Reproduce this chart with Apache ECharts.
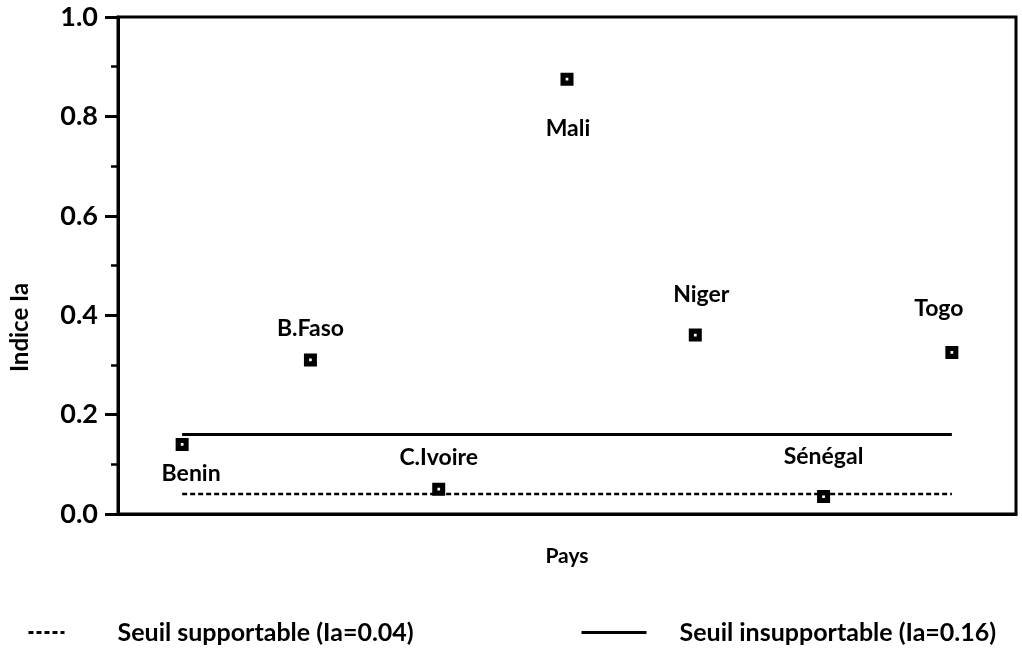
<!DOCTYPE html>
<html>
<head>
<meta charset="utf-8">
<script src="https://cdn.jsdelivr.net/npm/echarts@6/dist/echarts.min.js"></script>
<style>html,body{margin:0;padding:0;background:#fff}#c{width:1022px;height:652px}</style>
</head>
<body>
<div id="c"></div>
<script>
var countries = ['Benin', 'B.Faso', 'C.Ivoire', 'Mali', 'Niger', 'Sénégal', 'Togo'];
var indiceIa = [0.14, 0.31, 0.05, 0.875, 0.36, 0.035, 0.325];
var seuilSupportable = 0.04;
var seuilInsupportable = 0.16;
var yTicks = [0.0, 0.2, 0.4, 0.6, 0.8, 1.0];

// label placement (style only)
var labelPos = ['bottom', 'top', 'top', 'bottom', 'top', 'top', 'top'];
var labelDist = [11, 13, 14, 31, 23, 22, 26];
var labelDx = [9, 0, 0, 1, 6, 0, -13];

var FONT = 'Lato';
var chart = echarts.init(document.getElementById('c'));

var scatterData = countries.map(function (c, i) {
  return {
    value: [c, indiceIa[i]],
    label: { position: labelPos[i], distance: labelDist[i], offset: [labelDx[i], 0] }
  };
});

var supportName = 'Seuil supportable (Ia=' + seuilSupportable.toFixed(2) + ')';
var insupportName = 'Seuil insupportable (Ia=' + seuilInsupportable.toFixed(2) + ')';

var legendText = { fontFamily: FONT, fontSize: 25, fontWeight: 'bold', color: '#000' };

chart.setOption({
  backgroundColor: '#fff',
  animation: false,
  textStyle: { fontFamily: FONT, color: '#000' },
  grid: { left: 117, right: 6, top: 17, bottom: 138, show: true, borderColor: '#000', borderWidth: 3 },
  legend: [
    {
      left: 22, top: 615, itemWidth: 36, itemHeight: 14, itemGap: 5,
      data: [supportName],
      itemStyle: { color: 'transparent', borderWidth: 0 },
      lineStyle: { width: 3 },
      textStyle: Object.assign({ padding: [0, 0, 0, 48] }, legendText)
    },
    {
      left: 575, top: 615, itemWidth: 65, itemHeight: 14, itemGap: 5,
      data: [insupportName],
      itemStyle: { color: 'transparent', borderWidth: 0 },
      lineStyle: { width: 3 },
      textStyle: Object.assign({ padding: [0, 0, 0, 28] }, legendText)
    }
  ],
  xAxis: {
    type: 'category',
    data: countries,
    boundaryGap: true,
    name: 'Pays',
    nameLocation: 'middle',
    nameGap: 32,
    nameTextStyle: { fontFamily: FONT, fontSize: 21, fontWeight: 'bold', color: '#000' },
    axisLine: { lineStyle: { color: '#000', width: 3 } },
    axisTick: { show: false },
    axisLabel: { show: false },
    splitLine: { show: false }
  },
  yAxis: {
    type: 'value',
    min: 0, max: 1, interval: 0.2,
    name: 'Indice Ia',
    nameLocation: 'middle',
    nameGap: 86,
    nameRotate: 90,
    nameTextStyle: { fontFamily: FONT, fontSize: 24, fontWeight: 'bold', color: '#000', padding: [0, 124, 0, 0] },
    axisLine: { show: true, lineStyle: { color: '#000', width: 3 } },
    axisTick: { show: true, length: 13, lineStyle: { color: '#000', width: 3 } },
    minorTick: { show: true, splitNumber: 2, length: 7, lineStyle: { color: '#000', width: 2.5 } },
    splitLine: { show: false },
    axisLabel: {
      margin: 20, fontFamily: FONT, fontSize: 27, fontWeight: 'bold', color: '#000',
      formatter: function (v) {
        for (var i = 0; i < yTicks.length; i++) { if (Math.abs(yTicks[i] - v) < 1e-9) return yTicks[i].toFixed(1); }
        return '';
      }
    }
  },
  series: [
    {
      name: supportName,
      type: 'line',
      data: [[countries[0], seuilSupportable], [countries[countries.length - 1], seuilSupportable]],
      symbol: 'none',
      lineStyle: { color: '#000', width: 2.5, type: [5, 3] },
      itemStyle: { color: '#000' },
      z: 2
    },
    {
      name: insupportName,
      type: 'line',
      data: [[countries[0], seuilInsupportable], [countries[countries.length - 1], seuilInsupportable]],
      symbol: 'none',
      lineStyle: { color: '#000', width: 3 },
      itemStyle: { color: '#000' },
      z: 2
    },
    {
      name: 'Indice Ia',
      type: 'scatter',
      data: scatterData,
      symbol: 'path://M0,0H12V12H0Z M4.75,4.75V7.25H7.25V4.75Z',
      symbolSize: 13,
      itemStyle: { color: '#000', opacity: 1 },
      label: {
        show: true, formatter: '{b}', fontFamily: FONT, fontSize: 23, fontWeight: 'bold', color: '#000'
      },
      z: 3
    }
  ]
});
</script>
</body>
</html>
